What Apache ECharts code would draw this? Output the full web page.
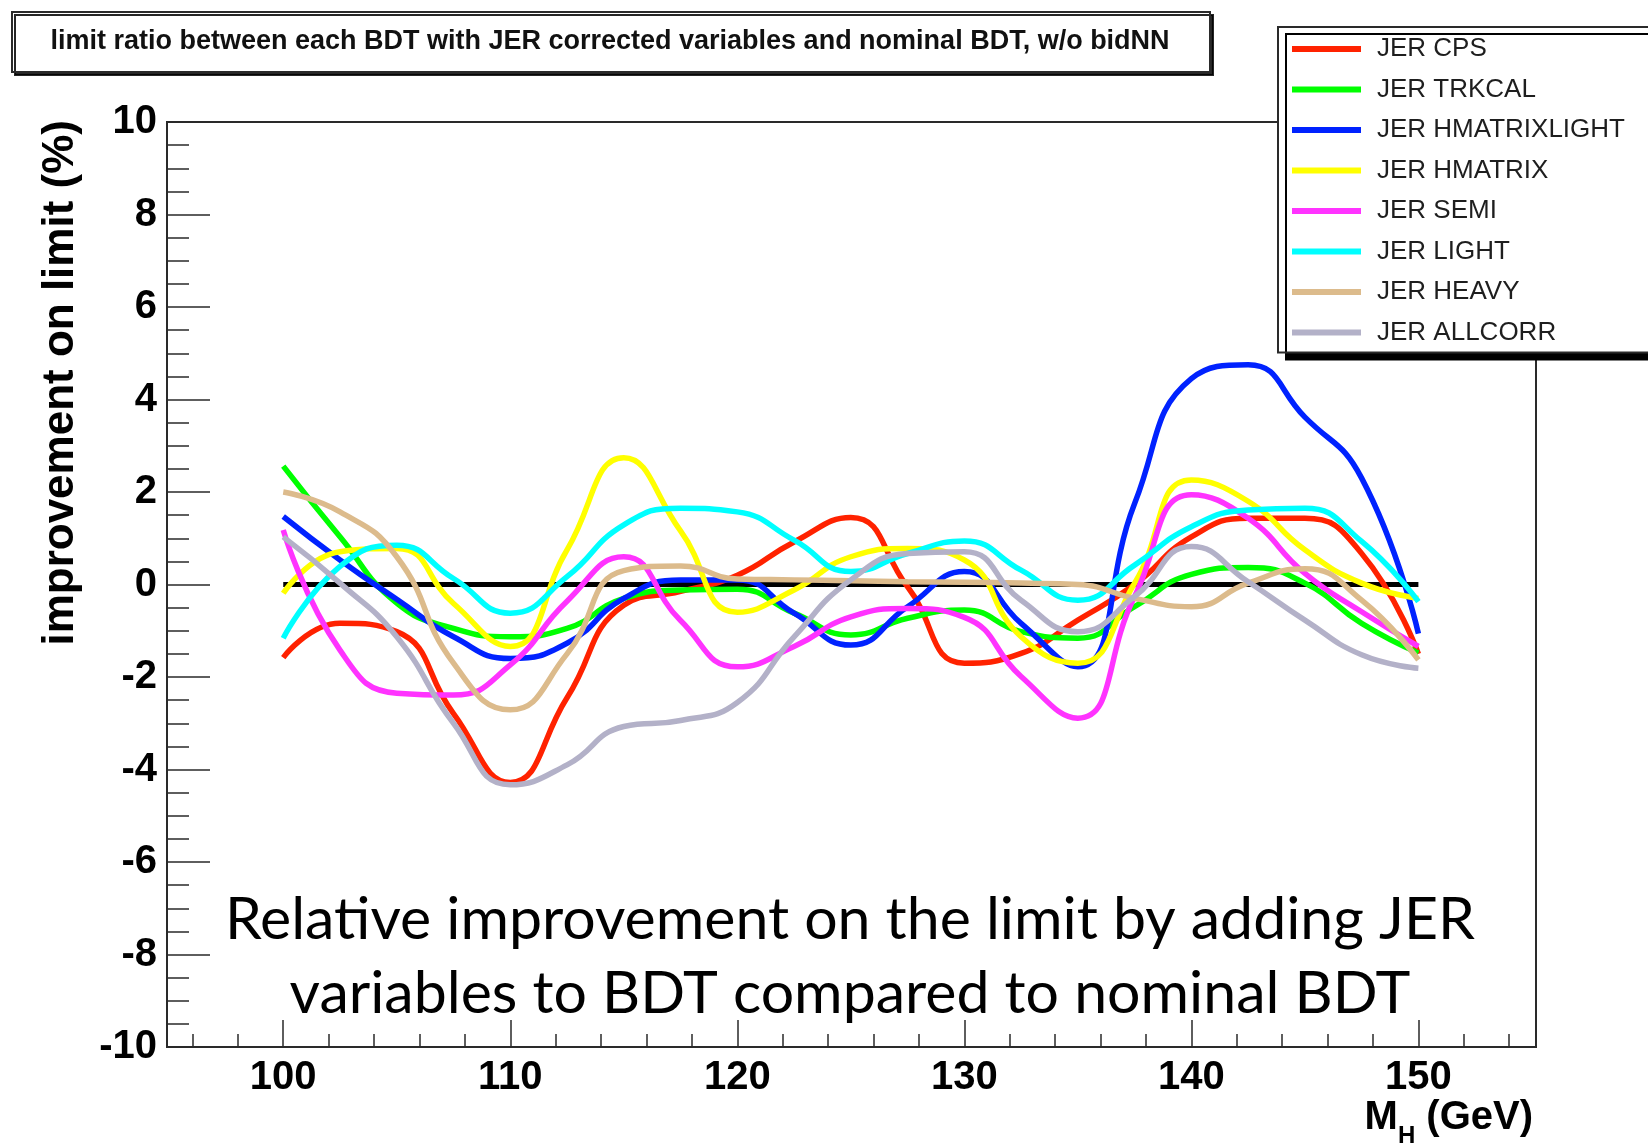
<!DOCTYPE html>
<html>
<head>
<meta charset="utf-8">
<title>JER BDT limit improvement</title>
<script src="https://cdn.jsdelivr.net/npm/echarts@6/dist/echarts.min.js"></script>
<style>
  html, body { margin: 0; padding: 0; background: #fff; }
  #chart { width: 1648px; height: 1143px; }
</style>
</head>
<body>
<div id="chart"></div>
<script>
// Higgs mass points (GeV) at which each curve is sampled
const massPoints = [100, 102.5, 105, 107.5, 110, 112.5, 115, 117.5, 120, 122.5, 125,
                    127.5, 130, 132.5, 135, 137.5, 140, 142.5, 145, 147.5, 150];

// Relative improvement on the limit (%) for each JER-corrected BDT
const jerCPS          = [-1.58, -0.84, -1.02, -2.79, -4.28, -2.45, -0.45, -0.15, 0.2, 0.92, 1.45,
                         -0.05, -1.7, -1.49, -0.77, 0.0, 1.03, 1.43, 1.43, 0.67, -1.5];
const jerTRKCAL       = [2.56, 1.03, -0.4, -0.95, -1.13, -0.95, -0.3, -0.12, -0.1, -0.62, -1.09,
                         -0.73, -0.55, -1.02, -1.16, -0.48, 0.22, 0.37, 0.03, -0.84, -1.48];
const jerHMATRIXLIGHT = [1.47, 0.53, -0.32, -1.13, -1.6, -1.27, -0.3, 0.1, 0.1, -0.62, -1.31,
                         -0.48, 0.28, -0.84, -1.78, 1.75, 4.45, 4.75, 3.62, 2.3, -1.06];
const jerHMATRIX      = [-0.19, 0.71, 0.78, -0.41, -1.34, 0.75, 2.74, 1.16, -0.6, -0.12, 0.6,
                         0.78, 0.53, -1.13, -1.7, 0.03, 2.26, 1.8, 0.75, 0.03, -0.3];
const jerSEMI         = [1.18, -1.42, -2.35, -2.39, -1.74, -0.36, 0.6, -0.78, -1.78, -1.34, -0.7,
                         -0.52, -0.71, -1.99, -2.89, -0.26, 1.94, 1.43, 0.24, -0.59, -1.34];
const jerLIGHT        = [-1.16, 0.39, 0.85, 0.13, -0.62, 0.17, 1.29, 1.65, 1.57, 0.96, 0.28,
                         0.67, 0.94, 0.31, -0.34, 0.42, 1.25, 1.61, 1.65, 0.93, -0.37];
const jerHEAVY        = [2.0, 1.57, 0.6, -1.7, -2.71, -1.5, 0.3, 0.4, 0.12, 0.1, 0.08,
                         0.06, 0.05, 0.03, 0.0, -0.3, -0.48, 0.03, 0.34, -0.34, -1.63];
const jerALLCORR      = [1.03, 0.03, -1.13, -3.0, -4.33, -3.9, -3.07, -2.94, -2.55, -1.13, 0.1,
                         0.67, 0.71, -0.34, -1.02, -0.26, 0.82, 0.06, -0.77, -1.52, -1.81];

const seriesNames  = ['JER CPS', 'JER TRKCAL', 'JER HMATRIXLIGHT', 'JER HMATRIX',
                      'JER SEMI', 'JER LIGHT', 'JER HEAVY', 'JER ALLCORR'];
const seriesValues = [jerCPS, jerTRKCAL, jerHMATRIXLIGHT, jerHMATRIX,
                      jerSEMI, jerLIGHT, jerHEAVY, jerALLCORR];
const seriesColors = ['#ff2200', '#00ff00', '#0022ff', '#ffff00',
                      '#ff33ff', '#00ffff', '#dcbb8c', '#b3b1c8'];

// Reference line at zero improvement
const zeroLineX = [100, 150];
const zeroLineY = [0, 0];

// Axis ticks and labels
const xMajorTicks = [100, 110, 120, 130, 140, 150];
const xMinorTicks = [96, 98, 102, 104, 106, 108, 112, 114, 116, 118, 122, 124, 126, 128,
                     132, 134, 136, 138, 142, 144, 146, 148, 152, 154];

const chartTitle = 'limit ratio between each BDT with JER corrected variables and nominal BDT, w/o bidNN';
const yTitle = 'improvement on limit (%)';
const noteLines = ['Relative improvement on the limit by adding JER',
                   'variables to BDT compared to nominal BDT'];

const chart = echarts.init(document.getElementById('chart'), null, { renderer: 'canvas' });

const axisFont = 'Liberation Sans, Arial, Helvetica, sans-serif';
const frameColor = '#2a2a2a';

const lineSeries = seriesNames.map((name, i) => ({
  name: name,
  type: 'line',
  xAxisIndex: 0,
  yAxisIndex: 0,
  data: massPoints.map((m, k) => [m, seriesValues[i][k]]),
  smooth: 0.5,
  symbol: 'none',
  z: 3 + i,
  color: seriesColors[i],
  lineStyle: { color: seriesColors[i], width: 5.5 },
  itemStyle: { color: seriesColors[i] },
  emphasis: { disabled: true },
  animation: false
}));

const zeroSeries = {
  name: 'zero',
  type: 'line',
  data: zeroLineX.map((x, k) => [x, zeroLineY[k]]),
  symbol: 'none',
  z: 2,
  lineStyle: { color: '#000', width: 5 },
  emphasis: { disabled: true },
  silent: true,
  animation: false
};

const option = {
  backgroundColor: '#fff',
  animation: false,
  grid: {
    left: 167, top: 122, width: 1369, height: 925,
    show: true, borderColor: frameColor, borderWidth: 2, backgroundColor: '#fff'
  },
  xAxis: [
    {
      type: 'value', min: 94.88, max: 155.18, position: 'bottom',
      axisLine: { show: true, onZero: false, lineStyle: { color: frameColor, width: 2 } },
      axisTick: { show: true, inside: true, length: 27, customValues: xMajorTicks,
                  lineStyle: { color: frameColor, width: 1.5 } },
      axisLabel: { show: true, customValues: xMajorTicks, fontSize: 40, fontWeight: 'bold',
                   fontFamily: axisFont, color: '#000', margin: 11 },
      splitLine: { show: false }
    },
    {
      type: 'value', min: 94.88, max: 155.18, position: 'bottom', gridIndex: 0,
      axisLine: { show: false, onZero: false },
      axisTick: { show: true, inside: true, length: 13, customValues: xMinorTicks,
                  lineStyle: { color: frameColor, width: 1.5 } },
      axisLabel: { show: false },
      splitLine: { show: false }
    }
  ],
  yAxis: {
    type: 'value', min: -10, max: 10, interval: 2,
    axisLine: { show: true, onZero: false, lineStyle: { color: frameColor, width: 2 } },
    axisTick: { show: true, inside: true, length: 43, lineStyle: { color: frameColor, width: 1.5 } },
    minorTick: { show: true, splitNumber: 4, length: 22, lineStyle: { color: frameColor, width: 1.5 } },
    axisLabel: { fontSize: 40, fontWeight: 'bold', fontFamily: axisFont, color: '#000',
                 margin: 10, padding: [10, 0, 0, 0] },
    splitLine: { show: false }
  },
  legend: {
    data: seriesNames,
    orient: 'vertical',
    left: 1278, top: 27,
    icon: 'rect',
    itemWidth: 69, itemHeight: 6, itemGap: 10.5,
    selectedMode: false,
    padding: [7, 300, 5, 14],
    backgroundColor: '#fff',
    borderColor: frameColor, borderWidth: 2,
    shadowColor: '#000', shadowBlur: 0, shadowOffsetX: 8, shadowOffsetY: 7,
    textStyle: { fontSize: 26, fontFamily: axisFont, color: '#1e1e1e', lineHeight: 30,
                 padding: [0, 0, 0, 11] },
    z: 20
  },
  graphic: [
    {
      type: 'rect', z: 20,
      shape: { x: 12, y: 12, width: 1198, height: 60 },
      style: { fill: '#fff', stroke: frameColor, lineWidth: 2,
               shadowColor: 'rgba(0,0,0,0.85)', shadowOffsetX: 3, shadowOffsetY: 3, shadowBlur: 0 }
    },
    {
      type: 'text', z: 21, x: 610, y: 42,
      style: { text: chartTitle, fill: '#111', align: 'center', verticalAlign: 'middle',
               font: 'bold 27px ' + axisFont }
    },
    {
      type: 'text', z: 21, x: 61, y: 120, rotation: Math.PI / 2,
      style: { text: yTitle, fill: '#000', align: 'right', verticalAlign: 'middle',
               font: 'bold 44px ' + axisFont }
    },
    {
      type: 'text', z: 21, x: 1533, y: 1098,
      style: {
        text: '{m|M}{h|H}{m| (GeV)}', align: 'right', verticalAlign: 'top',
        rich: {
          m: { fontSize: 40, fontWeight: 'bold', fontFamily: axisFont, fill: '#000',
               lineHeight: 42, verticalAlign: 'top' },
          h: { fontSize: 24, fontWeight: 'bold', fontFamily: axisFont, fill: '#000',
               lineHeight: 24, padding: [26, 0, 0, 0], verticalAlign: 'top' }
        }
      }
    },
    {
      type: 'text', z: 21, x: 850, y: 920,
      style: { text: noteLines[0], fill: '#000', align: 'center', verticalAlign: 'middle',
               font: '59px Lato, "Open Sans", sans-serif' }
    },
    {
      type: 'text', z: 21, x: 850, y: 994,
      style: { text: noteLines[1], fill: '#000', align: 'center', verticalAlign: 'middle',
               font: '59px Lato, "Open Sans", sans-serif' }
    }
  ],
  series: [zeroSeries].concat(lineSeries)
};

chart.setOption(option);
</script>
</body>
</html>
